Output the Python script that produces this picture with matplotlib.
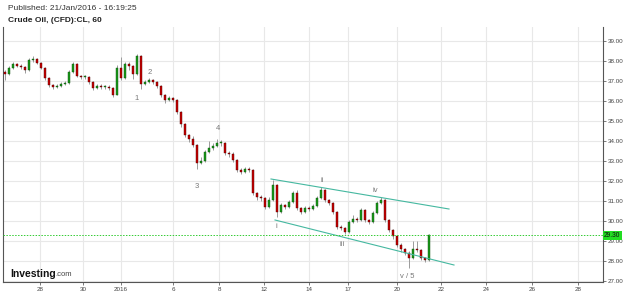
import numpy as np
import matplotlib
matplotlib.use("Agg")
import matplotlib.pyplot as plt

plt.rcParams['font.family'] = ['Liberation Sans', 'DejaVu Sans']

# hourly-ish candles, Crude Oil CFD
first_open = 37.45
closes = [37.35, 37.65, 37.85, 37.75, 37.70, 37.55, 38.05, 38.10, 37.90, 37.65,
          37.15, 36.80, 36.70, 36.75, 36.85, 36.90, 37.45, 37.85, 37.25, 37.20,
          37.20, 36.95, 36.65, 36.75, 36.70, 36.70, 36.65, 36.30, 37.65, 37.15,
          37.85, 37.75, 37.35, 38.25, 36.85, 36.95, 37.05, 36.95, 36.75, 36.30,
          36.05, 36.15, 36.05, 35.45, 34.85, 34.30, 34.10, 33.80, 32.90, 33.00,
          33.45, 33.65, 33.75, 33.90, 33.90, 33.40, 33.35, 33.05, 32.55, 32.45,
          32.60, 32.55, 31.40, 31.20, 31.15, 30.70, 31.05, 31.80, 30.45, 30.80,
          30.70, 30.95, 31.40, 30.65, 30.45, 30.65, 30.60, 30.75, 31.15, 31.55,
          31.05, 30.90, 30.45, 29.70, 29.65, 29.45, 29.95, 30.10, 30.05, 30.55,
          30.05, 29.95, 30.40, 30.90, 31.05, 30.05, 29.55, 29.25, 28.80, 28.60,
          28.40, 28.15, 28.60, 28.55, 28.15, 28.05, 29.28]
highs = [37.55, 37.75, 37.95, 37.90, 37.85, 37.75, 38.15, 38.25, 38.15, 37.95,
         37.70, 37.20, 36.85, 36.85, 36.95, 37.00, 37.55, 37.95, 37.90, 37.30,
         37.30, 37.25, 37.00, 36.85, 36.85, 36.80, 36.80, 36.70, 37.80, 38.20,
         37.95, 37.95, 37.80, 38.35, 38.30, 37.05, 37.15, 37.10, 37.00, 36.80,
         36.35, 36.25, 36.20, 36.10, 35.50, 34.90, 34.35, 34.25, 33.85, 33.20,
         33.55, 34.00, 33.90, 34.10, 34.05, 33.95, 33.50, 33.45, 33.10, 32.65,
         32.70, 32.70, 32.60, 31.45, 31.30, 31.20, 31.20, 32.05, 31.85, 30.90,
         30.85, 31.05, 31.50, 31.55, 30.70, 30.75, 30.75, 30.85, 31.25, 31.70,
         31.60, 31.10, 30.95, 30.50, 29.80, 29.70, 30.05, 30.30, 30.20, 30.65,
         30.60, 30.10, 30.50, 31.00, 31.20, 31.10, 30.10, 29.60, 29.30, 28.90,
         28.65, 28.50, 29.00, 29.00, 28.60, 28.20, 29.35]
lows = [37.05, 37.30, 37.60, 37.70, 37.60, 37.40, 37.50, 37.95, 37.85, 37.60,
        37.05, 36.70, 36.60, 36.65, 36.70, 36.80, 36.85, 37.40, 37.20, 37.10,
        37.10, 36.85, 36.55, 36.60, 36.60, 36.60, 36.55, 36.20, 36.30, 37.05,
        37.10, 37.55, 37.10, 37.30, 36.60, 36.80, 36.90, 36.85, 36.65, 36.20,
        35.90, 36.00, 35.95, 35.35, 34.70, 34.20, 33.95, 33.70, 32.60, 32.85,
        32.95, 33.40, 33.55, 33.70, 33.75, 33.30, 33.20, 32.95, 32.45, 32.35,
        32.40, 32.45, 31.30, 31.05, 31.00, 30.60, 30.65, 31.00, 30.20, 30.40,
        30.60, 30.65, 30.90, 30.55, 30.35, 30.40, 30.50, 30.55, 30.70, 31.10,
        30.95, 30.80, 30.35, 29.60, 29.55, 29.35, 29.40, 29.90, 29.95, 30.00,
        29.95, 29.85, 29.90, 30.35, 30.85, 29.95, 29.45, 29.10, 28.70, 28.45,
        28.30, 27.65, 28.10, 28.45, 28.05, 27.95, 28.00]

# x axis (bar units)
tick_labels = ["28", "30", "2016", "6", "8", "12", "14", "17", "20", "22", "24", "26", "28"]
tick_pos = [8.75, 19.5, 29, 42, 53.5, 64.75, 76, 85.75, 98, 109, 120.25, 131.75, 143.25]
y_ticks = list(range(27, 40))
last_price = 29.28
last_label = "29.30"

# Elliott wave labels
wave_text = ["1", "2", "3", "4", "i", "ii", "iii", "iv", "v / 5"]
wave_x = [33, 36.25, 48, 53.25, 67.75, 79.25, 84.25, 92.5, 100.5]
wave_y = [36.1, 37.4, 31.75, 34.6, 29.7, 32.05, 28.8, 31.55, 27.25]

# channel lines
upper_x, upper_y = [66.5, 111], [32.1, 30.6]
lower_x, lower_y = [67.5, 112.25], [30.05, 27.8]

opens = [first_open] + closes[:-1]
x = np.arange(len(closes))
o = np.array(opens)
c = np.array(closes)
up = c >= o

fig = plt.figure(figsize=(6.25, 2.95), dpi=100)
ax = fig.add_axes([3 / 625, 1 - 282 / 295, 600 / 625, 255 / 295])
ax.set_xlim(-0.5, 149.5)
ax.set_ylim(26.95, 39.7)

for t in tick_pos:
    ax.axvline(t, color="#e8e8e8", lw=0.8, zorder=0)
for v in y_ticks:
    ax.axhline(v, color="#e8e8e8", lw=0.8, zorder=0)

ax.vlines(x, lows, highs, color="#9a9a9a", lw=0.7, zorder=2)
body_h = np.maximum(np.abs(c - o), 0.04)
body_b = np.minimum(c, o)
ax.bar(x[up], body_h[up], bottom=body_b[up], width=0.45,
       color="#1a9a1a", edgecolor="#0b4d0b", lw=0.3, zorder=3)
ax.bar(x[~up], body_h[~up], bottom=body_b[~up], width=0.45,
       color="#c80000", edgecolor="#4d0000", lw=0.3, zorder=3)

ax.plot(upper_x, upper_y, color="#45b8a0", lw=0.8, zorder=4)
ax.plot(lower_x, lower_y, color="#45b8a0", lw=0.8, zorder=4)

for t, xx, yy in zip(wave_text, wave_x, wave_y):
    ax.text(xx, yy, t, color="#777777", fontsize=5.5, ha="center", va="center")

ax.axhline(last_price, color="#33cc33", lw=0.7, ls=(0, (1.5, 1.5)), zorder=4)

ax.yaxis.tick_right()
ax.set_yticks(y_ticks)
ax.set_yticklabels([f"{v:.2f}" for v in y_ticks])
ax.set_xticks(tick_pos)
ax.set_xticklabels(tick_labels)
ax.tick_params(axis="both", labelsize=4.5, colors="#444444", length=2, width=0.5, pad=1.5)
ax.spines["top"].set_visible(False)
for s in ["left", "right", "bottom"]:
    ax.spines[s].set_color("#555555")
    ax.spines[s].set_linewidth(0.8)

ax.text(1.002, (last_price - 26.95) / (39.7 - 26.95), last_label,
        transform=ax.transAxes, fontsize=4.8, color="#111111", va="center", ha="left",
        bbox=dict(boxstyle="square,pad=0.15", fc="#22dd22", ec="none"), zorder=6,
        clip_on=False)

fig.text(8 / 625, 1 - 8 / 295, "Published: 21/Jan/2016 - 16:19:25", fontsize=6,
         color="#333333", va="center")
fig.text(8 / 625, 1 - 20 / 295, "Crude Oil, (CFD):CL, 60", fontsize=6,
         color="#222222", va="center", weight="bold")
fig.text(10 / 625, 1 - 274 / 295, "Investing", fontsize=7.5, weight="bold",
         color="#111111", va="center")
fig.text(55 / 625, 1 - 275 / 295, ".com", fontsize=5.5, color="#444444", va="center")

fig.savefig("out.png", dpi=100, facecolor="white")
